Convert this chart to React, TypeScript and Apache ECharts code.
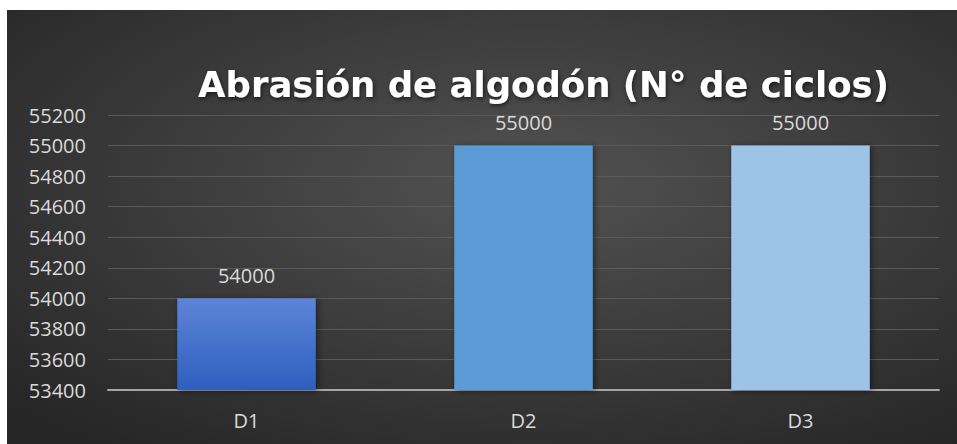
import React, { useEffect, useRef } from "react";
import * as echarts from "echarts";

const categories = ["D1", "D2", "D3"];
const values = [54000, 55000, 55000];
const titleText = "Abrasión de algodón (N° de ciclos)";

const barColors = [
  new echarts.graphic.LinearGradient(0, 0, 0, 1, [
    { offset: 0, color: "#5d84d7" },
    { offset: 1, color: "#2e5fbf" },
  ]),
  "#5b9bd5",
  "#9dc3e6",
];

export default function App() {
  const ref = useRef<HTMLDivElement>(null);

  useEffect(() => {
    if (!ref.current) return;
    const chart = echarts.init(ref.current, undefined, { renderer: "svg" });
    chart.setOption({
      animation: false,
      backgroundColor: new echarts.graphic.RadialGradient(0.55, 0.4, 0.75, [
        { offset: 0, color: "#525252" },
        { offset: 1, color: "#262626" },
      ]),
      title: {
        text: titleText,
        left: 186,
        top: 51,
        textStyle: {
          color: "#ffffff",
          fontFamily: "DejaVu Sans",
          fontWeight: "bold",
          fontSize: 35.5,
          textShadowColor: "rgba(0,0,0,0.6)",
          textShadowBlur: 4,
          textShadowOffsetX: 1,
          textShadowOffsetY: 2,
        },
      },
      grid: { left: 101, right: 18, top: 105, bottom: 54 },
      xAxis: {
        type: "category",
        data: categories,
        axisTick: { show: false },
        axisLine: { lineStyle: { color: "#a6a6a6", width: 2 } },
        axisLabel: {
          color: "#d9d9d9",
          fontSize: 20,
          fontFamily: "Open Sans",
          margin: 20,
        },
      },
      yAxis: {
        type: "value",
        min: 53400,
        max: 55200,
        interval: 200,
        axisLine: { show: false },
        axisTick: { show: false },
        splitLine: { lineStyle: { color: "#5a5a5a", width: 1 } },
        axisLabel: {
          color: "#d9d9d9",
          fontSize: 20,
          fontFamily: "Open Sans",
          margin: 22,
          formatter: (v: number) => String(v),
        },
      },
      series: [
        {
          type: "bar",
          barWidth: "50%",
          data: values.map((v, i) => ({
            value: v,
            itemStyle: {
              color: barColors[i],
              shadowColor: "rgba(0,0,0,0.45)",
              shadowBlur: 6,
              shadowOffsetX: 2,
              shadowOffsetY: 1,
            },
          })),
          label: {
            show: true,
            position: "top",
            distance: 13,
            color: "#d9d9d9",
            fontSize: 20,
            fontFamily: "Open Sans",
          },
        },
      ],
    });
    return () => chart.dispose();
  }, []);

  return (
    <div
      ref={ref}
      style={{ position: "absolute", left: 7, top: 10, width: 950, height: 434 }}
    />
  );
}
